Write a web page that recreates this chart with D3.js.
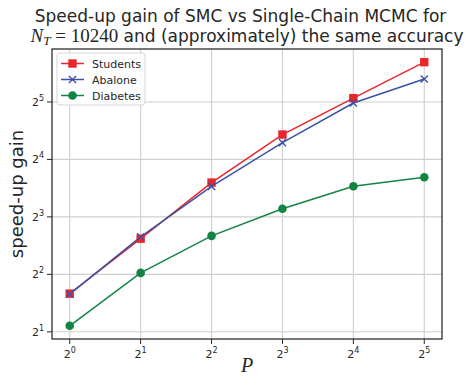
<!DOCTYPE html>
<html>
<head>
<meta charset="utf-8">
<script src="https://cdn.jsdelivr.net/npm/d3@7"></script>
<style>
  body { margin: 0; background: #fff; }
  svg { display: block; font-family: "DejaVu Sans", sans-serif; }
</style>
</head>
<body>
<svg id="chart" width="471" height="376"></svg>
<script>
// processors P (as powers of two) and speed-up gains per dataset
const pExponents = [0, 1, 2, 3, 4, 5];
const seriesNames = ["Students", "Abalone", "Diabetes"];
const students = [3.17, 6.15, 12.1, 21.6, 33.5, 51.7];
const abalone = [3.15, 6.28, 11.55, 19.6, 31.6, 42.2];
const diabetes = [2.15, 4.07, 6.36, 8.82, 11.57, 12.9];
const yTickExponents = [1, 2, 3, 4, 5];

const colors = { "Students": "#e8262b", "Abalone": "#3c52a6", "Diabetes": "#138443" };
const markers = { "Students": "square", "Abalone": "x", "Diabetes": "circle" };

const margin = { left: 52, right: 29, top: 49, bottom: 37 };
const width = 471, height = 376;

const svg = d3.select('#chart');

const allVals = students.concat(abalone, diabetes).map(v => Math.log2(v));
const yMin = d3.min(allVals), yMax = d3.max(allVals);
const yPad = (yMax - yMin) * 0.05;

// x in log2 space, matplotlib style 5% margins
const x = d3.scaleLinear()
    .domain([-0.25, 5.25])
    .range([margin.left, width - margin.right]);
const y = d3.scaleLinear()
    .domain([yMin - yPad, yMax + yPad])
    .range([height - margin.bottom, margin.top]);

const data = [students, abalone, diabetes].map((vals, i) => ({
  name: seriesNames[i],
  points: vals.map((v, j) => ({ p: pExponents[j], v: Math.log2(v) }))
}));

// grid
const g = svg.append('g');
g.selectAll('.vgrid').data(pExponents).enter().append('line')
    .attr('x1', d => x(d)).attr('x2', d => x(d))
    .attr('y1', margin.top).attr('y2', height - margin.bottom)
    .attr('stroke', '#cfcfcf').attr('stroke-width', 1.1);
g.selectAll('.hgrid').data(yTickExponents).enter().append('line')
    .attr('x1', margin.left).attr('x2', width - margin.right)
    .attr('y1', d => y(d)).attr('y2', d => y(d))
    .attr('stroke', '#cfcfcf').attr('stroke-width', 1.1);

// lines
const line = d3.line().x(d => x(d.p)).y(d => y(d.v));
data.forEach(s => {
  g.append('path')
    .attr('d', line(s.points))
    .attr('fill', 'none')
    .attr('stroke', colors[s.name])
    .attr('stroke-width', 1.5);
});

function drawMarker(sel, type, cx, cy, color) {
  if (type === 'square') {
    sel.append('rect').attr('x', cx - 4.2).attr('y', cy - 4.2)
      .attr('width', 8.4).attr('height', 8.4).attr('fill', color);
  } else if (type === 'circle') {
    sel.append('circle').attr('cx', cx).attr('cy', cy).attr('r', 4.3).attr('fill', color);
  } else {
    const r = 3.6;
    sel.append('path')
      .attr('d', `M${cx - r},${cy - r}L${cx + r},${cy + r}M${cx - r},${cy + r}L${cx + r},${cy - r}`)
      .attr('stroke', color).attr('stroke-width', 1.4).attr('fill', 'none');
  }
}

data.forEach(s => {
  s.points.forEach(pt => drawMarker(g, markers[s.name], x(pt.p), y(pt.v), colors[s.name]));
});

// frame
svg.append('rect')
    .attr('x', margin.left).attr('y', margin.top)
    .attr('width', width - margin.left - margin.right)
    .attr('height', height - margin.top - margin.bottom)
    .attr('fill', 'none').attr('stroke', '#262626').attr('stroke-width', 1.25);

// ticks
const tickColor = '#262626';
pExponents.forEach(e => {
  svg.append('line')
    .attr('x1', x(e)).attr('x2', x(e))
    .attr('y1', height - margin.bottom).attr('y2', height - margin.bottom + 5)
    .attr('stroke', tickColor).attr('stroke-width', 1);
  const t = svg.append('text')
    .attr('x', x(e)).attr('y', height - margin.bottom + 19)
    .attr('text-anchor', 'middle')
    .attr('font-size', 11).attr('fill', '#262626');
  t.append('tspan').text('2');
  t.append('tspan').attr('dy', -5).attr('font-size', 8).text(e);
});
yTickExponents.forEach(e => {
  svg.append('line')
    .attr('x1', margin.left - 5).attr('x2', margin.left)
    .attr('y1', y(e)).attr('y2', y(e))
    .attr('stroke', tickColor).attr('stroke-width', 1);
  const t = svg.append('text')
    .attr('x', margin.left - 8).attr('y', y(e) + 4)
    .attr('text-anchor', 'end')
    .attr('font-size', 11).attr('fill', '#262626');
  t.append('tspan').text('2');
  t.append('tspan').attr('dy', -5).attr('font-size', 8).text(e);
});

// title
svg.append('text')
    .attr('x', 240.5).attr('y', 22)
    .attr('text-anchor', 'middle')
    .attr('font-size', 17).attr('fill', '#262626')
    .text('Speed-up gain of SMC vs Single-Chain MCMC for');
const t2 = svg.append('text')
    .attr('x', 247).attr('y', 42)
    .attr('text-anchor', 'middle')
    .attr('font-size', 17).attr('fill', '#262626');
t2.append('tspan').attr('font-family', 'Liberation Serif, serif').attr('font-style', 'italic').attr('font-size', 19).text('N');
t2.append('tspan').attr('font-family', 'Liberation Serif, serif').attr('font-style', 'italic').attr('font-size', 13).attr('dy', 3).text('T');
t2.append('tspan').attr('font-family', 'Liberation Serif, serif').attr('font-size', 19).attr('dy', -3).text(' = 10240');
t2.append('tspan').text(' and (approximately) the same accuracy');

// axis labels
svg.append('text')
    .attr('transform', `translate(23,${(margin.top + height - margin.bottom) / 2}) rotate(-90)`)
    .attr('text-anchor', 'middle')
    .attr('font-size', 18).attr('fill', '#262626')
    .text('speed-up gain');
svg.append('text')
    .attr('x', (margin.left + width - margin.right) / 2).attr('y', 372)
    .attr('text-anchor', 'middle')
    .attr('font-family', 'Liberation Serif, serif').attr('font-style', 'italic')
    .attr('font-size', 20).attr('fill', '#262626')
    .text('P');

// legend
const lg = svg.append('g');
lg.append('rect')
    .attr('x', 57).attr('y', 53).attr('width', 88).attr('height', 52)
    .attr('rx', 3).attr('fill', '#fff').attr('fill-opacity', 0.85)
    .attr('stroke', '#d6d6d6').attr('stroke-width', 1);
seriesNames.forEach((name, i) => {
  const ly = 63.5 + i * 16;
  lg.append('line')
    .attr('x1', 61).attr('x2', 84).attr('y1', ly).attr('y2', ly)
    .attr('stroke', colors[name]).attr('stroke-width', 1.5);
  drawMarker(lg, markers[name], 72.5, ly, colors[name]);
  lg.append('text')
    .attr('x', 92).attr('y', ly + 4)
    .attr('font-size', 11).attr('fill', '#262626')
    .text(name);
});
</script>
</body>
</html>
